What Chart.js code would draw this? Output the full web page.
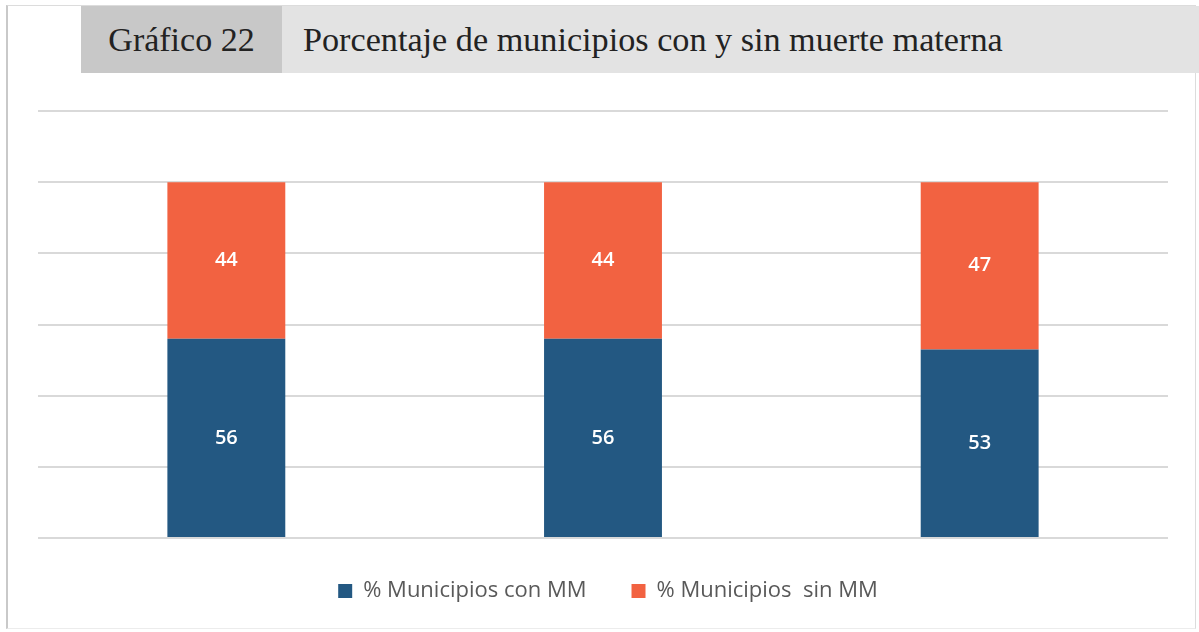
<!DOCTYPE html>
<html>
<head>
<meta charset="utf-8">
<script src="https://cdn.jsdelivr.net/npm/chart.js@4.4.1/dist/chart.umd.min.js"></script>
<style>
  html, body { margin: 0; padding: 0; background: #fff; }
  #wrap { position: relative; width: 1199px; height: 632px; overflow: hidden; }
  #frame { position: absolute; left: 6px; top: 5px; width: 1190px; height: 624px;
           border-left: 2px solid #c9c9c9; border-top: 1px solid #dcdcdc; border-right: 1px solid #dcdcdc; border-bottom: 1px solid #ececec; box-sizing: border-box; }
  #h1 { position: absolute; left: 81px; top: 6px; width: 201px; height: 67px; background: #c8c8c8;
        font-family: "Liberation Serif", serif; font-size: 34px; color: #222; line-height: 67px; text-align: center; }
  #h2 { position: absolute; left: 282px; top: 6px; width: 917px; height: 67px; background: #e3e3e3;
        font-family: "Liberation Serif", serif; font-size: 34.2px; color: #222; line-height: 67px; padding-left: 21px; box-sizing: border-box; }
  canvas { position: absolute; left: 0; top: 0; }
</style>
</head>
<body>
<div id="wrap">
  <div id="frame"></div>
  <div id="h1">Gráfico 22</div>
  <div id="h2">Porcentaje de municipios con y sin muerte materna</div>
  <canvas id="c" width="1199" height="632"></canvas>
</div>
<script>
const categories = ["", " ", "  "];
const conMM = [56, 56, 53];
const sinMM = [44, 44, 47];
const seriesNames = ["% Municipios con MM", "% Municipios  sin MM"];

const valueLabels = {
  id: 'valueLabels',
  afterDatasetsDraw(chart) {
    const ctx = chart.ctx;
    ctx.save();
    ctx.fillStyle = '#ffffff';
    ctx.font = '600 20px "Open Sans", sans-serif';
    ctx.textAlign = 'center';
    ctx.textBaseline = 'middle';
    chart.data.datasets.forEach((ds, i) => {
      const meta = chart.getDatasetMeta(i);
      meta.data.forEach((bar, j) => {
        const y = (bar.y + bar.base) / 2;
        ctx.fillText(String(ds.data[j]), bar.x, y);
      });
    });
    ctx.restore();
  }
};

const legendShift = {
  id: 'legendShift',
  afterLayout(chart) {
    const lg = chart.legend;
    if (!lg) return;
    lg.top -= 11; lg.bottom -= 11;
    lg.left += 5; lg.right += 5;
  }
};

new Chart(document.getElementById('c'), {
  type: 'bar',
  data: {
    labels: categories,
    datasets: [
      { label: seriesNames[0], data: conMM, backgroundColor: '#235882' },
      { label: seriesNames[1], data: sinMM, backgroundColor: '#f26241' }
    ]
  },
  options: {
    responsive: false,
    animation: false,
    layout: { padding: { left: 38, right: 31, top: 111, bottom: 9 } },
    datasets: { bar: { categoryPercentage: 1, barPercentage: 0.313 } },
    scales: {
      x: { stacked: true, grid: { display: false }, border: { display: false }, ticks: { display: false } },
      y: { stacked: true, min: 0, max: 120, ticks: { display: false, stepSize: 20 },
           grid: { color: '#d9d9d9', lineWidth: 2, drawTicks: false }, border: { display: false } }
    },
    plugins: {
      legend: {
        position: 'bottom',
        labels: { boxWidth: 14, boxHeight: 14, padding: 45, color: '#595959',
                  font: { family: '"Open Sans", sans-serif', size: 22 } }
      },
      tooltip: { enabled: false }
    }
  },
  plugins: [valueLabels, legendShift]
});
</script>
</body>
</html>
